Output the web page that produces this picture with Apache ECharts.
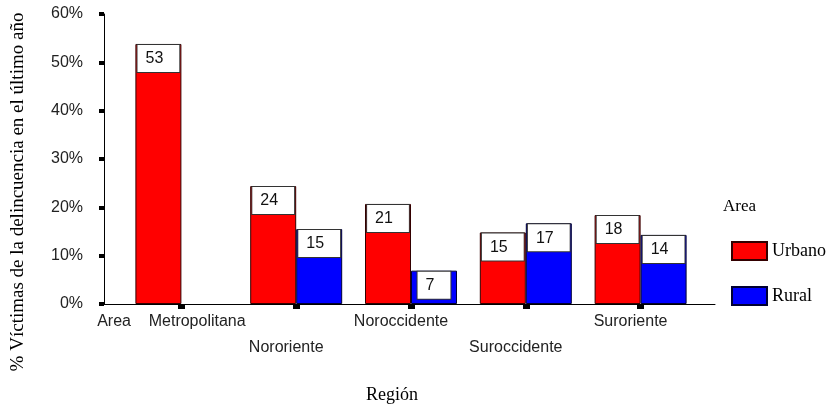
<!DOCTYPE html>
<html>
<head>
<meta charset="utf-8">
<script src="https://cdn.jsdelivr.net/npm/echarts@6/dist/echarts.min.js"></script>
<style>html,body{margin:0;padding:0;background:#fff;}#c{width:828px;height:410px;}</style>
</head>
<body>
<div id="c"></div>
<script>
var categories = ['Area    Metropolitana', 'Nororiente', 'Noroccidente', 'Suroccidente', 'Suroriente'];
var urbanoValues = [53.8, 24.4, 20.7, 14.8, 18.4];
var ruralValues = [null, 15.5, 6.9, 16.7, 14.3];
var urbanoLabels = ['53', '24', '21', '15', '18'];
var ruralLabels = ['', '15', '7', '17', '14'];
var yTicks = [0, 10, 20, 30, 40, 50, 60];

var chart = echarts.init(document.getElementById('c'));
var sans = 'Liberation Sans, Arial, sans-serif';
var serif = 'Liberation Serif, Times New Roman, serif';

function boxLabel(labels) {
  return {
    show: true,
    position: 'insideTop',
    distance: 1,
    formatter: function (p) { return labels[p.dataIndex]; },
    backgroundColor: '#fff',
    borderColor: '#333',
    borderWidth: 1,
    padding: [6, 16, 5, 8],
    fontFamily: sans,
    fontSize: 16,
    color: '#111'
  };
}

chart.setOption({
  animation: false,
  backgroundColor: '#fff',
  title: [
    { text: 'Región', left: 392, top: 386, textAlign: 'center', padding: 0,
      textStyle: { fontFamily: serif, fontSize: 18, fontWeight: 'normal', color: '#000' } },
    { text: 'Area', left: 723, top: 198, padding: 0,
      textStyle: { fontFamily: serif, fontSize: 17, fontWeight: 'normal', color: '#000' } }
  ],
  legend: {
    orient: 'vertical',
    left: 731, top: 241, padding: 0,
    itemWidth: 35, itemHeight: 18, itemGap: 25,
    icon: 'rect',
    textStyle: { fontFamily: serif, fontSize: 18, color: '#000', padding: [10, 0, 0, 0] },
    data: ['Urbano', 'Rural']
  },
  grid: [
    { left: 124, width: 574, top: 14, bottom: 106 },
    { left: 104, right: 113, top: 14, bottom: 106 }
  ],
  xAxis: [
    { type: 'category', gridIndex: 0, data: categories,
      axisLine: { show: false },
      axisTick: { show: true, alignWithLabel: true, length: 5, lineStyle: { color: '#000', width: 7 } },
      axisLabel: { interval: 0, margin: 5, fontFamily: sans, fontSize: 16, color: '#222', lineHeight: 26,
        padding: [0, 20, 0, 0],
        formatter: function (v, i) { return i % 2 === 1 ? '\n' + v : v; } } },
    { type: 'value', gridIndex: 1, min: 0, max: 1,
      axisLine: { show: true, lineStyle: { color: '#000', width: 1 } },
      axisTick: { show: false }, axisLabel: { show: false }, splitLine: { show: false } }
  ],
  yAxis: [
    { type: 'value', gridIndex: 0, min: 0, max: 60, interval: 10, show: false, splitLine: { show: false } },
    { type: 'value', gridIndex: 1, min: 0, max: 60, interval: 10,
      axisLine: { show: true, lineStyle: { color: '#000', width: 1 } },
      axisTick: { show: true, length: 5, lineStyle: { color: '#000', width: 4 } },
      axisLabel: { margin: 21, fontFamily: sans, fontSize: 16, color: '#222',
        formatter: function (v) { return yTicks.indexOf(v) >= 0 ? v + '%' : ''; } },
      splitLine: { show: false },
      name: '% Víctimas de la delincuencia en el último año',
      nameLocation: 'middle', nameGap: 76,
      nameTextStyle: { fontFamily: serif, fontSize: 19, color: '#000', padding: [0, 66, 0, 0] } }
  ],
  series: [
    { name: 'Urbano', type: 'bar', xAxisIndex: 0, yAxisIndex: 0, data: urbanoValues,
      barWidth: 46, barGap: '0%',
      itemStyle: { color: '#ff0000', borderColor: '#300', borderWidth: 1 },
      label: boxLabel(urbanoLabels) },
    { name: 'Rural', type: 'bar', xAxisIndex: 0, yAxisIndex: 0, data: ruralValues,
      barWidth: 46, barGap: '0%',
      itemStyle: { color: '#0000ff', borderColor: '#003', borderWidth: 1 },
      label: boxLabel(ruralLabels) }
  ]
});
</script>
</body>
</html>
